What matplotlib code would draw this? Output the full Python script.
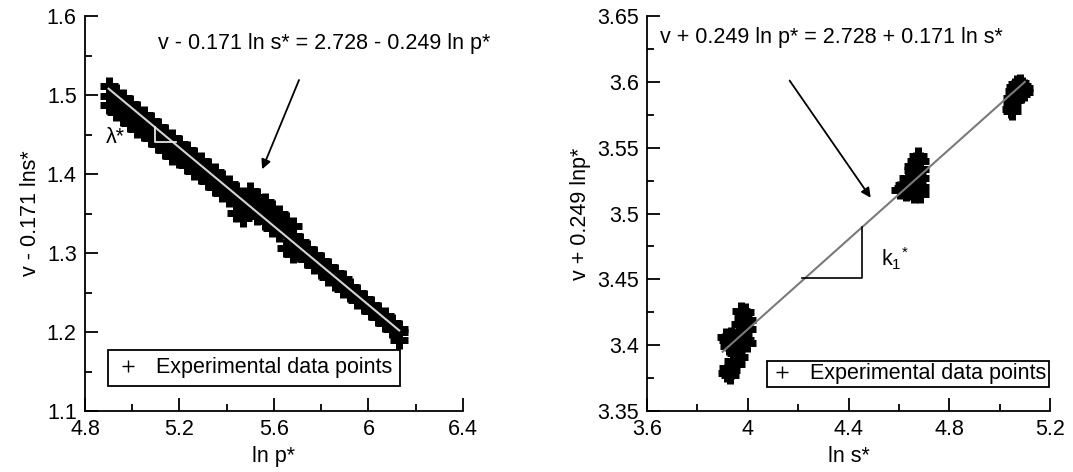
import matplotlib
matplotlib.use("Agg")
import matplotlib.pyplot as plt
from matplotlib.lines import Line2D

plt.rcParams["font.family"] = ["Liberation Sans", "DejaVu Sans"]
plt.rcParams["mathtext.fontset"] = "custom"
plt.rcParams["mathtext.rm"] = "Liberation Sans"
plt.rcParams["mathtext.it"] = "Liberation Sans:italic"
plt.rcParams["mathtext.default"] = "regular"

FS = 15.5

# ---- left panel data: v - 0.171 ln s* against ln p*
ln_p = [4.90, 4.93, 4.96, 4.99, 5.02, 5.05, 5.08, 5.11, 5.14, 5.17,
        5.20, 5.23, 5.26, 5.29, 5.32, 5.35, 5.38, 5.41, 5.44, 5.47,
        5.50, 5.53, 5.56, 5.59, 5.62, 5.65, 5.68, 5.71, 5.74, 5.77,
        5.80, 5.83, 5.86, 5.89, 5.92, 5.95, 5.98, 6.01, 6.04, 6.07,
        6.10, 6.13]
v_upper = [1.511, 1.503, 1.496, 1.489, 1.481, 1.475, 1.467, 1.460, 1.452, 1.445,
           1.438, 1.431, 1.423, 1.417, 1.409, 1.402, 1.394, 1.387, 1.379, 1.372,
           1.379, 1.371, 1.364, 1.356, 1.349, 1.341, 1.334, 1.314, 1.305, 1.297,
           1.290, 1.282, 1.275, 1.267, 1.257, 1.249, 1.242, 1.234, 1.227, 1.220,
           1.212, 1.204]
v_mid = [1.499, 1.491, 1.484, 1.477, 1.469, 1.464, 1.456, 1.449, 1.441, 1.434,
         1.429, 1.422, 1.414, 1.408, 1.400, 1.393, 1.385, 1.378, 1.370, 1.363,
         1.367, 1.359, 1.352, 1.344, 1.337, 1.329, 1.322, 1.306, 1.299, 1.291,
         1.284, 1.276, 1.269, 1.261, 1.253, 1.245, 1.238, 1.230, 1.223, 1.216,
         1.208, 1.200]
v_lower = [1.487, 1.479, 1.472, 1.465, 1.457, 1.453, 1.445, 1.438, 1.430, 1.423,
           1.419, 1.412, 1.404, 1.399, 1.391, 1.384, 1.376, 1.369, 1.351, 1.344,
           1.355, 1.347, 1.340, 1.332, 1.325, 1.306, 1.299, 1.300, 1.293, 1.285,
           1.278, 1.270, 1.263, 1.255, 1.249, 1.241, 1.234, 1.226, 1.219, 1.212,
           1.204, 1.190]
fit_p = [4.90, 6.13]
fit_v1 = [1.508, 1.202]

# ---- right panel data: v + 0.249 ln p* against ln s*
s1 = [3.975, 3.990, 3.980, 3.995, 3.970, 3.985, 3.995, 3.965, 3.980, 3.915,
      3.920, 3.935, 3.950, 3.970, 3.990, 3.995, 3.925, 3.945, 3.955, 3.965,
      3.940, 3.955, 3.920, 3.935, 3.918, 3.928]
y1 = [3.426, 3.425, 3.421, 3.419, 3.416, 3.414, 3.412, 3.410, 3.408, 3.406,
      3.404, 3.407, 3.405, 3.403, 3.404, 3.402, 3.399, 3.398, 3.394, 3.391,
      3.388, 3.386, 3.383, 3.381, 3.379, 3.377]
s2 = [4.605, 4.620, 4.635, 4.655, 4.668, 4.675, 4.683, 4.683, 4.683, 4.683,
      4.683, 4.675, 4.660, 4.645, 4.630, 4.615, 4.660, 4.645, 4.670, 4.655, 4.672]
y2 = [3.518, 3.522, 3.527, 3.533, 3.540, 3.544, 3.540, 3.534, 3.527, 3.520,
      3.515, 3.516, 3.515, 3.517, 3.516, 3.519, 3.524, 3.526, 3.530, 3.536, 3.523]
s3 = [5.047, 5.050, 5.048, 5.055, 5.062, 5.070, 5.080, 5.088, 5.095, 5.095,
      5.065, 5.058, 5.075, 5.050, 5.085]
y3 = [3.579, 3.583, 3.588, 3.593, 3.596, 3.598, 3.599, 3.597, 3.595, 3.592,
      3.590, 3.586, 3.594, 3.578, 3.591]
fit_s = [3.90, 5.10]
fit_v2 = [3.395, 3.600]

left_xticks = [4.8, 5.2, 5.6, 6.0, 6.4]
left_xlabels = ["4.8", "5.2", "5.6", "6", "6.4"]
left_yticks = [1.1, 1.2, 1.3, 1.4, 1.5, 1.6]
left_ylabels = ["1.1", "1.2", "1.3", "1.4", "1.5", "1.6"]
right_xticks = [3.6, 4.0, 4.4, 4.8, 5.2]
right_xlabels = ["3.6", "4", "4.4", "4.8", "5.2"]
right_yticks = [3.35, 3.40, 3.45, 3.50, 3.55, 3.60, 3.65]
right_ylabels = ["3.35", "3.4", "3.45", "3.5", "3.55", "3.6", "3.65"]


def style_axes(ax, xticks, xlabels, yticks, ylabels, xminor, yminor):
    for s in ["top", "right"]:
        ax.spines[s].set_visible(False)
    for s in ["left", "bottom"]:
        ax.spines[s].set_linewidth(1.3)
    ax.set_xticks(xticks)
    ax.set_xticklabels(xlabels)
    ax.set_yticks(yticks)
    ax.set_yticklabels(ylabels)
    ax.set_xticks(xminor, minor=True)
    ax.set_yticks(yminor, minor=True)
    ax.tick_params(which="major", direction="in", length=9.5, width=1.3,
                   labelsize=FS, pad=6)
    ax.tick_params(which="minor", direction="in", length=5, width=1.3)


fig = plt.figure(figsize=(10.73, 4.72), dpi=100)
ax1 = fig.add_axes([0.0792, 0.1292, 0.3523, 0.8369])
ax2 = fig.add_axes([0.603, 0.1292, 0.3756, 0.8369])

# left panel
mk = dict(marker="+", markersize=13, mew=5.0, color="black", linestyle="none")
ax1.plot(ln_p, v_upper, **mk)
ax1.plot(ln_p, v_mid, **mk)
ax1.plot(ln_p, v_lower, **mk)
ax1.plot(fit_p, fit_v1, color="#d4d4d4", lw=1.5)
ax1.plot([5.095, 5.095, 5.185], [1.460, 1.441, 1.441], color="#e6e6e6", lw=1.3)
ax1.set_xlim(4.8, 6.4)
ax1.set_ylim(1.1, 1.6)
style_axes(ax1, left_xticks, left_xlabels, left_yticks, left_ylabels,
           [5.0, 5.4, 5.8, 6.2], [1.15, 1.25, 1.35, 1.45, 1.55])
ax1.set_xlabel("ln p*", fontsize=FS, labelpad=4)
ax1.set_ylabel("v - 0.171 lns*", fontsize=FS)
ax1.yaxis.set_label_coords(-0.116, 0.5)
ax1.text(5.107, 1.565, "v - 0.171 ln s* = 2.728 - 0.249 ln p*",
         fontsize=FS, va="center", ha="left")
ax1.annotate("", xy=(5.55, 1.406), xytext=(5.706, 1.519),
             arrowprops=dict(arrowstyle="-|>", color="black", lw=1.3,
                             mutation_scale=14, shrinkA=0, shrinkB=0))
ax1.text(4.89, 1.446, "λ*", fontsize=FS, va="center", ha="left")
h = Line2D([], [], marker="+", markersize=9, mew=1.0, color="black", linestyle="none")
leg1 = ax1.legend([h], ["Experimental data points"], loc="lower left",
                  bbox_to_anchor=(0.061, 0.064), borderaxespad=0, fontsize=FS,
                  fancybox=False, framealpha=1, edgecolor="black",
                  handlelength=1.2, handletextpad=0.7, borderpad=0.35)
leg1.get_frame().set_linewidth(1.3)

# right panel
ax2.plot(s1, y1, **mk)
ax2.plot(s2, y2, **mk)
ax2.plot(s3, y3, **mk)
ax2.plot(fit_s, fit_v2, color="#7a7a7a", lw=1.5)
ax2.plot([4.216, 4.453, 4.453], [3.4507, 3.4507, 3.4895], color="black", lw=1.2)
ax2.set_xlim(3.6, 5.2)
ax2.set_ylim(3.35, 3.65)
style_axes(ax2, right_xticks, right_xlabels, right_yticks, right_ylabels,
           [3.8, 4.2, 4.6, 5.0],
           [3.375, 3.425, 3.475, 3.525, 3.575, 3.625])
ax2.set_xlabel("ln s*", fontsize=FS, labelpad=4)
ax2.set_ylabel("v + 0.249 lnp*", fontsize=FS)
ax2.yaxis.set_label_coords(-0.14, 0.5)
ax2.text(3.651, 3.634, "v + 0.249 ln p* = 2.728 + 0.171 ln s*",
         fontsize=FS, va="center", ha="left")
ax2.annotate("", xy=(4.488, 3.512), xytext=(4.166, 3.601),
             arrowprops=dict(arrowstyle="-|>", color="black", lw=1.3,
                             mutation_scale=14, shrinkA=0, shrinkB=0))
ax2.text(4.53, 3.466, "$k_{1}{}^{*}$", fontsize=FS, va="center", ha="left")
leg2 = ax2.legend([h], ["Experimental data points"], loc="lower right",
                  bbox_to_anchor=(0.9975, 0.061), borderaxespad=0, fontsize=FS,
                  fancybox=False, framealpha=1, edgecolor="black",
                  handlelength=1.2, handletextpad=0.7, borderpad=0.12)
leg2.get_frame().set_linewidth(1.3)

fig.savefig("out.png", dpi=100)
